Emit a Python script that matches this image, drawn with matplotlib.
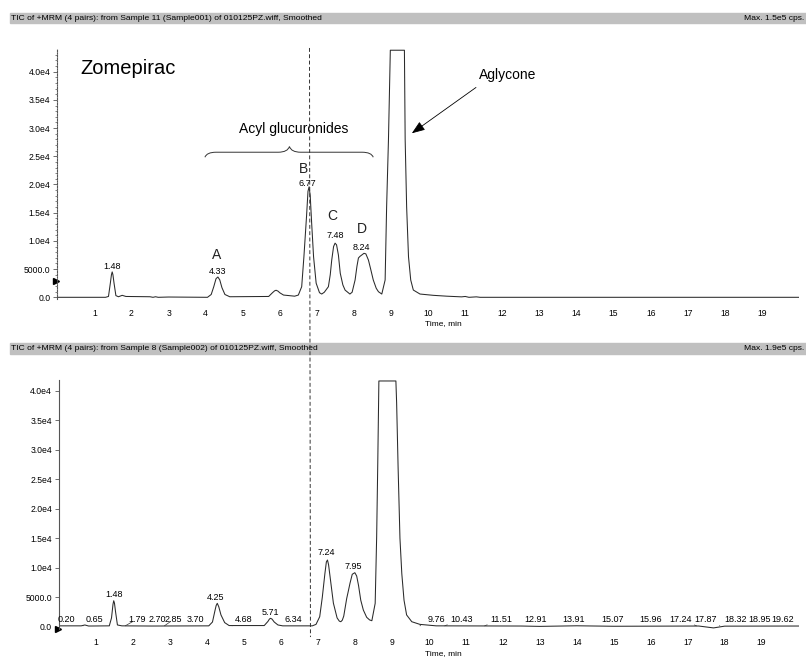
import numpy as np
import matplotlib
matplotlib.use('Agg')
import matplotlib.pyplot as plt
from matplotlib.patches import Rectangle, PathPatch
from matplotlib.path import Path
from matplotlib.lines import Line2D

plt.rcParams['font.family'] = ['Liberation Sans', 'DejaVu Sans']

# Sample 11 (Sample001): time (min) and intensity (cps); top is clipped
t_top = [0.0, 1.30, 1.38, 1.43, 1.46, 1.48, 1.50, 1.53, 1.58, 1.65, 1.75, 1.85, 2.50, 2.58, 2.65, 2.72, 3.00,
         4.05, 4.15, 4.22, 4.28, 4.33, 4.38, 4.44, 4.52, 4.65, 5.70, 5.80, 5.86, 5.90, 5.95, 6.00, 6.10, 6.40,
         6.50, 6.59, 6.65, 6.72, 6.76, 6.79, 6.82, 6.86, 6.91, 6.98, 7.07, 7.13, 7.20,
         7.31, 7.36, 7.40, 7.45, 7.49, 7.53, 7.58, 7.63, 7.70, 7.76, 7.89, 7.95,
         8.03, 8.08, 8.12, 8.16, 8.21, 8.27, 8.32, 8.39, 8.45, 8.52, 8.60, 8.66, 8.75,
         8.84, 8.88, 8.93, 8.98, 9.36, 9.38, 9.42, 9.47, 9.53, 9.60, 9.78,
         10.14, 10.50, 10.90, 11.00, 11.10, 11.30, 11.40, 20.0]
i_top = [0, 0, 150, 2500, 4000, 4500, 4000, 2500, 300, 100, 350, 150, 100, 0, 100, 0, 50,
         0, 500, 1900, 3300, 3600, 3100, 1700, 500, 100, 150, 800, 1150, 1250, 1100, 800, 400, 200,
         400, 1880, 7200, 14300, 18800, 19600, 18000, 13000, 7200, 2500, 820, 580, 900,
         1880, 4000, 6600, 9000, 9600, 9300, 7500, 4260, 2200, 1280, 580, 900,
         3070, 5500, 6970, 7250, 7500, 7800, 7700, 6600, 5000, 3070, 1600, 990, 580,
         3070, 16000, 28000, 43800, 43800, 28000, 16000, 7200, 3070, 1290, 580,
         350, 200, 80, 150, 0, 80, 0, 0]

# Sample 8 (Sample002)
t_bot = [0.0, 0.60, 0.70, 0.80, 1.36, 1.42, 1.46, 1.48, 1.50, 1.53, 1.58, 1.70, 2.50,
         4.05, 4.15, 4.22, 4.25, 4.28, 4.32, 4.38, 4.48, 4.60, 5.55, 5.65, 5.69, 5.72, 5.76, 5.82, 5.92, 6.05,
         6.85, 6.95, 7.05, 7.12, 7.19, 7.23, 7.26, 7.29, 7.33, 7.42, 7.52, 7.58, 7.62, 7.66,
         7.70, 7.78, 7.82, 7.87, 7.93, 8.00, 8.05, 8.10, 8.16, 8.23, 8.32, 8.40, 8.46,
         8.55, 8.59, 8.62, 8.65, 9.11, 9.13, 9.17, 9.22, 9.27, 9.33, 9.40, 9.54, 9.76,
         10.20, 12.5, 13.0, 14.0, 15.0, 17.3, 17.7, 18.0, 20.0]
i_bot = [150, 150, 300, 120, 150, 1500, 3800, 4410, 4000, 2500, 300, 150, 120,
         150, 800, 2800, 3600, 3970, 3400, 2000, 700, 200, 200, 900, 1300, 1430, 1300, 800, 300, 150,
         150, 400, 1700, 5000, 9000, 11000, 11320, 10500, 8500, 4000, 1500, 950, 850, 1100,
         1800, 4800, 5940, 7400, 8900, 9170, 8600, 7000, 4500, 2830, 1600, 1150, 1020,
         3970, 15270, 27780, 41700, 41700, 38000, 27000, 15000, 9000, 4500, 2000, 850, 400,
         150, 120, 60, 160, 80, 120, -200, 100, 120]

ytick_vals = [0, 5000, 10000, 15000, 20000, 25000, 30000, 35000, 40000]
ytick_labels = ['0.0', '5000.0', '1.0e4', '1.5e4', '2.0e4', '2.5e4', '3.0e4', '3.5e4', '4.0e4']
xtick_vals = list(range(1, 20))

# peak labels, top panel
top_peak_text = ['1.48', '4.33', '6.77', '7.48', '8.24']
top_peak_x = [1.47, 4.31, 6.73, 7.49, 8.21]
top_peak_y = [5540, 4650, 20230, 10970, 8900]
letters = ['A', 'B', 'C', 'D']
letter_x = [4.30, 6.64, 7.42, 8.21]
letter_y = [7430, 22780, 14390, 12040]

# peak labels, bottom panel
bot_peak_text = ['1.48', '4.25', '5.71', '7.24', '7.95']
bot_peak_x = [1.50, 4.24, 5.72, 7.23, 7.96]
bot_peak_y = [5450, 4980, 2430, 12580, 10200]
bl_times = [0.20, 0.65, 1.79, 2.70, 2.85, 3.70, 4.68, 6.34, 9.76, 10.43, 11.51,
            12.91, 13.91, 15.07, 15.96, 17.24, 17.87, 18.32, 18.95, 19.62]
bl_label_x = [0.21, 0.97, 2.10, 2.67, 3.10, 3.70, 5.00, 6.34, 10.20, 10.88, 11.95,
              12.90, 13.92, 14.97, 16.00, 16.80, 17.48, 18.30, 18.95, 19.56]

marker_time = 6.8

W, H = 806, 658
fig = plt.figure(figsize=(W / 100, H / 100), dpi=100)
ax1 = fig.add_axes([57.3 / W, 1 - 299.0 / H, 741.7 / W, 249.9 / H])
ax2 = fig.add_axes([59.0 / W, 1 - 628.5 / H, 739.6 / W, 248.7 / H])

line_col = '#2a2a2a'
for ax, t, i, top in [(ax1, t_top, i_top, 44000), (ax2, t_bot, i_bot, 41900)]:
    ax.plot(t, i, color=line_col, lw=0.75)
    ax.set_xlim(0, 20)
    ax.set_ylim(-300, top)
    for s in ['top', 'right', 'bottom']:
        ax.spines[s].set_visible(False)
    ax.spines['left'].set_color('#555555')
    ax.spines['left'].set_linewidth(0.8)
    ax.set_yticks(ytick_vals)
    ax.set_yticklabels(ytick_labels)
    ax.set_xticks(xtick_vals)
    ax.set_xticklabels([str(v) for v in xtick_vals])
    ax.tick_params(axis='y', length=3, width=0.6, pad=2, labelsize=6.2, color='#555555')
    ax.tick_params(axis='x', length=0, pad=7, labelsize=6.2)
    ax.annotate('Time, min', xy=(10.4, -0.1), xycoords=('data', 'axes fraction'),
                ha='center', va='center', fontsize=6, annotation_clip=False)

ax1.spines['left'].set_linestyle((0, (1.2, 1.2)))
ax1.set_yticks(np.arange(0, 44000, 1000), minor=True)
ax1.tick_params(axis='y', which='minor', length=1.5, width=0.5, color='#555555')

ax1.plot(-0.04, 2890, marker='>', ms=4.5, color='k', clip_on=False)
ax2.plot(-0.04, -440, marker='>', ms=4.5, color='k', clip_on=False)

# top panel texts
for s, x, y in zip(top_peak_text, top_peak_x, top_peak_y):
    ax1.text(x, y, s, ha='center', va='center', fontsize=6.5)
for s, x, y in zip(letters, letter_x, letter_y):
    ax1.text(x, y, s, ha='center', va='center', fontsize=10, color='#222222')
ax1.text(0.61, 40600, 'Zomepirac', ha='left', va='center', fontsize=14.5)
ax1.text(11.37, 39400, 'Aglycone', ha='left', va='center', fontsize=10)
ax1.text(6.37, 29860, 'Acyl glucuronides', ha='center', va='center', fontsize=10)
ax1.annotate('', xy=(9.56, 29080), xytext=(11.29, 37200),
             arrowprops=dict(arrowstyle='-|>,head_length=0.8,head_width=0.3',
                             color='k', lw=0.6, shrinkA=0, shrinkB=0))

# curly brace over the acyl glucuronides
bx0, bx1, bxm, by, btip, bend = 3.98, 8.52, 6.26, 25720, 26730, 24830
cw = 0.3
verts = [(bx0, bend), (bx0 + 0.05, by), (bx0 + cw, by), (bxm - cw, by),
         (bxm - 0.05, by), (bxm, btip), (bxm + 0.05, by), (bxm + cw, by),
         (bx1 - cw, by), (bx1 - 0.05, by), (bx1, bend)]
codes = [Path.MOVETO, Path.CURVE3, Path.CURVE3, Path.LINETO,
         Path.CURVE3, Path.CURVE3, Path.CURVE3, Path.CURVE3,
         Path.LINETO, Path.CURVE3, Path.CURVE3]
ax1.add_patch(PathPatch(Path(verts, codes), fill=False, lw=0.7, color='#333333'))

# bottom panel texts
for s, x, y in zip(bot_peak_text, bot_peak_x, bot_peak_y):
    ax2.text(x, y, s, ha='center', va='center', fontsize=6.5)
for tm, lx in zip(bl_times, bl_label_x):
    s = '%.2f' % tm
    if abs(lx - tm) > 0.1:
        ax2.annotate(s, xy=(tm, 150), xytext=(lx, 1250), ha='center', va='center',
                     fontsize=6.5, arrowprops=dict(arrowstyle='-', lw=0.5, color='#333333',
                                                   shrinkA=3, shrinkB=0))
    else:
        ax2.text(lx, 1250, s, ha='center', va='center', fontsize=6.5)

# header bars
headers = [(12.7, 23.3, 'TIC of +MRM (4 pairs): from Sample 11 (Sample001) of 010125PZ.wiff, Smoothed',
            'Max. 1.5e5 cps.'),
           (343.3, 354.3, 'TIC of +MRM (4 pairs): from Sample 8 (Sample002) of 010125PZ.wiff, Smoothed',
            'Max. 1.9e5 cps.')]
for y0, y1, left, right in headers:
    fig.patches.append(Rectangle((10 / W, 1 - y1 / H), (W - 10) / W, (y1 - y0) / H,
                                 transform=fig.transFigure, color='#c0c0c0', zorder=0))
    yc = 1 - (y0 + y1) / 2 / H
    fig.text(11 / W, yc, left, ha='left', va='center', fontsize=6.1)
    fig.text(804 / W, yc, right, ha='right', va='center', fontsize=6.1)

# dashed marker line across both panels
inv = fig.transFigure.inverted()
p_top = inv.transform(ax1.transData.transform((marker_time, 44200)))
p_bot = inv.transform(ax2.transData.transform((marker_time, -1750)))
fig.add_artist(Line2D([p_top[0], p_bot[0]], [p_top[1], p_bot[1]], transform=fig.transFigure,
                      ls=(0, (4, 2.5)), lw=0.7, color='#333333', zorder=5))

fig.savefig('out.png', dpi=100)
